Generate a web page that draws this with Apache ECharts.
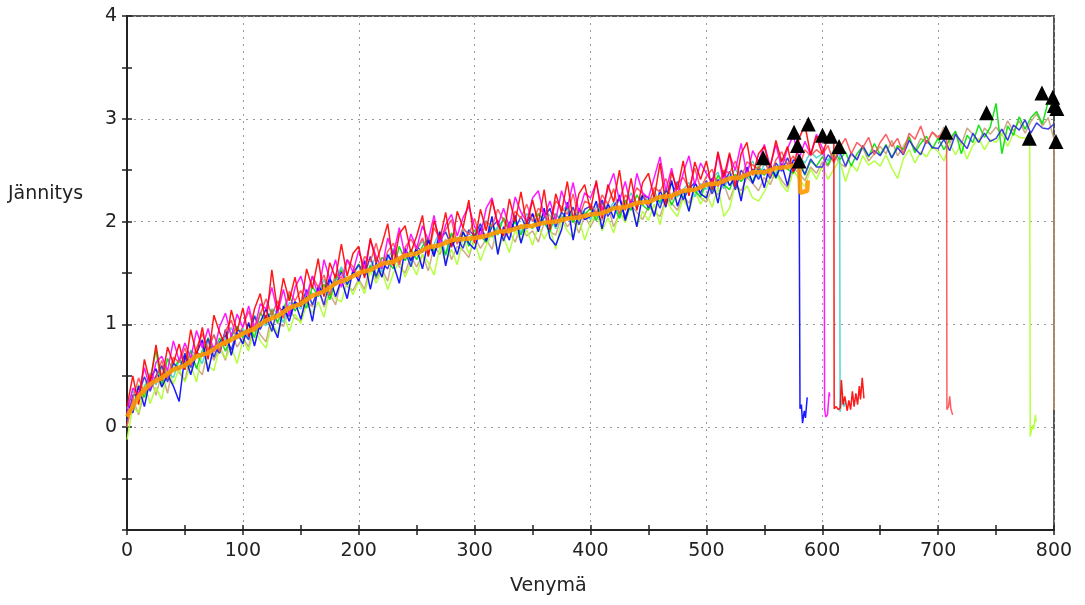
<!DOCTYPE html>
<html>
<head>
<meta charset="utf-8">
<script src="https://cdn.jsdelivr.net/npm/echarts@6/dist/echarts.min.js"></script>
<style>
  html, body { margin: 0; padding: 0; background: #fff; }
  #chart { width: 1085px; height: 605px; }
</style>
</head>
<body>
<div id="chart"></div>
<script>
// sample spacing of the curves (Venymä units)
var xStep = 5;
var xTicks = [0, 100, 200, 300, 400, 500, 600, 700, 800];
var yTicks = [0, 1, 2, 3, 4];

var redA = [
  .20,.50,.22,.66,.43,.80,.45,.78,.62,.81,
  .56,.95,.70,.97,.66,1.09,.92,.79,1.14,.93,
  1.16,.88,1.15,1.30,1.01,1.53,1.13,1.45,1.23,1.46,
  1.17,1.54,1.35,1.64,1.27,1.60,1.45,1.78,1.47,1.69,
  1.76,1.45,1.84,1.60,1.78,1.98,1.57,1.88,1.96,1.70,
  1.86,2.06,1.66,2.01,1.82,2.09,1.75,2.10,1.94,2.21,
  1.79,2.12,1.91,2.21,1.98,1.86,2.22,2.00,2.29,1.96,
  2.21,1.98,2.31,1.92,2.27,2.09,2.39,2.02,2.27,2.36,
  2.11,2.40,2.03,2.36,2.19,2.50,2.11,2.42,2.11,2.38,
  2.47,2.23,2.57,2.16,2.48,2.31,2.59,2.25,2.58,2.41,
  2.59,2.31,2.68,2.43,2.67,2.34,2.66,2.77,2.45,2.66,
  2.73,2.52,2.79,2.58,2.73,2.48,2.81,2.94,2.65,2.83,
  2.66,2.81,2.83
];
var redATail = [[610.3,0.18],[612,0.2],[614,0.17],[615.5,0.19],[616.5,0.46],[618,0.22],[619.5,0.3],[621.5,0.16],[623,0.26],[624.5,0.17],[626,0.35],[627.5,0.2],[629,0.33],[630.5,0.22],[632,0.4],[633,0.27],[634.5,0.48],[636,0.28]];

var redB = [
  .02,.27,.48,.33,.51,.47,.65,.47,.68,.63,
  .77,.60,.77,.91,.75,.90,.73,.94,1.04,.86,
  .98,1.13,.93,1.10,1.25,1.09,1.23,1.06,1.32,1.23,
  1.33,1.21,1.47,1.36,1.48,1.28,1.49,1.45,1.63,1.56,
  1.45,1.66,1.61,1.79,1.56,1.71,1.79,1.58,1.75,1.83,
  1.73,1.84,1.67,1.94,1.83,1.92,2.02,1.78,1.94,1.87,
  2.03,1.83,2.00,1.95,2.12,2.01,1.91,2.10,2.03,2.17,
  2.00,2.13,2.08,1.96,2.20,2.14,2.07,2.27,2.03,2.20,
  2.17,2.08,2.26,2.17,2.32,2.07,2.26,2.20,2.33,2.27,
  2.16,2.33,2.29,2.42,2.21,2.37,2.43,2.32,2.52,2.32,
  2.44,2.51,2.34,2.50,2.47,2.59,2.42,2.58,2.55,2.51,
  2.61,2.44,2.60,2.68,2.55,2.64,2.52,2.70,2.64,2.70,
  2.65,2.74,2.57,2.72,2.81,2.66,2.77,2.72,2.82,2.65,
  2.77,2.85,2.73,2.81,2.66,2.86,2.80,2.93,2.76,2.87,
  2.82,2.87
];
var redBTail = [[707.3,2.85],[707.6,0.17],[709,0.2],[710,0.3],[711,0.18],[712.5,0.12]];

var magenta = [
  .14,.38,.32,.58,.37,.63,.69,.55,.84,.65,
  .82,.67,.94,.77,.96,.73,.98,1.11,.88,1.10,
  .97,1.18,.95,1.20,1.15,1.36,1.11,1.34,1.09,1.36,
  1.47,1.28,1.47,1.28,1.63,1.44,1.63,1.36,1.63,1.51,
  1.72,1.54,1.82,1.66,1.54,1.84,1.68,1.94,1.66,1.88,
  1.74,1.96,1.82,2.06,1.76,1.97,2.07,1.86,2.04,2.15,
  1.95,1.86,2.13,2.23,1.96,2.13,1.94,2.24,2.09,2.00,
  2.23,2.30,2.05,2.20,2.01,2.30,2.13,2.38,2.09,2.28,
  2.23,2.38,2.11,2.32,2.47,2.20,2.39,2.14,2.47,2.28,
  2.23,2.43,2.63,2.30,2.52,2.25,2.47,2.64,2.36,2.57,
  2.47,2.38,2.66,2.37,2.65,2.50,2.76,2.45,2.69,2.58,
  2.75,2.54,2.75,2.52,2.71,2.84,2.61,2.78,2.65,2.85,
  2.72
];
var magentaTail = [[601.7,2.7],[602,0.18],[603,0.1],[604.5,0.12],[606,0.34],[606.5,0.3]];

var cyan = [
  .18,.36,.24,.39,.53,.41,.58,.54,.48,.65,
  .59,.75,.70,.62,.81,.90,.75,.87,.97,.86,
  .96,.87,1.09,1.01,.99,1.15,1.12,1.02,1.21,1.20,
  1.15,1.32,1.30,1.28,1.44,1.28,1.44,1.56,1.42,1.49,
  1.57,1.48,1.55,1.66,1.51,1.64,1.74,1.62,1.72,1.59,
  1.73,1.81,1.69,1.78,1.91,1.67,1.87,1.81,1.92,1.89,
  1.83,1.95,2.01,1.85,1.95,2.02,1.92,2.01,1.89,2.08,
  2.01,1.95,2.09,2.06,1.93,2.10,2.16,2.03,2.12,2.09,
  2.02,2.14,2.21,2.10,2.19,2.05,2.18,2.28,2.13,2.25,
  2.20,2.30,2.17,2.29,2.37,2.24,2.31,2.38,2.24,2.37,
  2.31,2.42,2.48,2.32,2.44,2.51,2.42,2.50,2.59,2.43,
  2.56,2.52,2.45,2.62,2.57,2.51,2.63,2.57,2.68,2.62,
  2.66,2.59,2.70,2.67
];
var cyanTail = [[615.4,0.15],[616.5,0.14],[617.5,0.3],[618.5,0.2],[620,0.24]];

var yellowGreen = [
  -.12,.20,.14,.42,.23,.39,.27,.57,.42,.57,
  .44,.61,.44,.73,.60,.55,.78,.67,.78,.62,
  .85,.74,.97,.84,.77,1.02,.91,1.10,.93,1.10,
  1.01,1.20,1.11,1.22,1.07,1.34,1.25,1.22,1.41,1.29,
  1.42,1.30,1.52,1.40,1.52,1.34,1.50,1.62,1.46,1.60,
  1.48,1.68,1.60,1.48,1.76,1.61,1.73,1.58,1.84,1.69,
  1.81,1.62,1.77,1.89,1.72,1.85,1.70,1.92,1.81,1.92,
  1.77,1.96,1.83,1.94,1.73,2.02,1.91,1.84,2.03,1.82,
  1.99,2.08,1.91,2.04,1.89,2.10,1.99,2.16,1.95,2.10,
  2.01,2.17,1.97,2.22,2.12,2.05,2.23,2.10,2.30,2.17,
  2.27,2.14,2.34,2.05,2.13,2.36,2.26,2.35,2.23,2.20,
  2.29,2.42,2.49,2.36,2.29,2.50,2.41,2.34,2.51,2.41,
  2.54,2.41,2.51,2.60,2.39,2.56,2.49,2.64,2.55,2.59,
  2.54,2.65,2.52,2.42,2.61,2.70,2.57,2.68,2.63,2.73,
  2.68,2.59,2.76,2.65,2.76,2.61,2.74,2.81,2.70,2.80,
  2.77,2.86,2.73,2.86,2.82,2.81
];
var yellowGreenTail = [[779,2.82],[779.5,-0.09],[781.5,0.02],[782.5,-0.02],[784,0.12],[784.5,0.05]];

var tan = [
  .00,.28,.12,.34,.51,.31,.53,.33,.62,.53,
  .46,.69,.58,.51,.76,.65,.78,.65,.92,.78,
  .87,.78,1.01,.90,.83,1.10,1.01,.98,1.15,1.06,
  1.03,1.22,1.17,1.36,1.17,1.30,1.19,1.44,1.37,1.33,
  1.44,1.34,1.58,1.44,1.54,1.42,1.70,1.56,1.50,1.66,
  1.56,1.68,1.52,1.76,1.68,1.83,1.63,1.76,1.72,1.65,
  1.85,1.74,1.83,1.73,1.96,1.83,1.90,1.80,1.97,1.86,
  1.91,1.80,1.99,1.90,1.87,2.06,1.95,2.02,1.89,2.06,
  1.95,2.06,2.01,2.16,1.95,2.08,2.03,2.16,2.09,2.02,
  2.15,2.09,2.05,2.22,2.18,2.11,2.25,2.18,2.32,2.23,
  2.19,2.32,2.26,2.37,2.21,2.36,2.30,2.43,2.37,2.30,
  2.43,2.36,2.49,2.40,2.33,2.52,2.47,2.40,2.53,2.47,
  2.58,2.54,2.65,2.57,2.53,2.65,2.61,2.72,2.59,2.66,
  2.73,2.66,2.79,2.64,2.73,2.83,2.69,2.81,2.76,2.87,
  2.80,2.92,2.76,2.87,2.75,2.91,2.85,2.77,2.91,2.85,
  2.92,2.84,2.98,2.88,2.98,2.86,2.97,3.05,2.93,3.01,
  2.80
];
var tanTail = [[800,0.17]];

var lime = [
  .16,.18,.41,.29,.46,.75,.40,.67,.54,.67,
  .56,.74,.57,.75,.87,.74,.87,.74,.88,.98,
  .87,1.00,.87,1.12,1.01,1.14,1.02,1.15,1.29,1.13,
  1.23,1.16,1.37,1.27,1.39,1.24,1.43,1.53,1.39,1.48,
  1.59,1.47,1.57,1.46,1.65,1.61,1.54,1.76,1.62,1.73,
  1.63,1.76,1.84,1.71,1.80,1.68,1.89,1.79,1.90,1.76,
  1.92,1.86,1.80,1.98,1.87,2.04,1.91,2.00,1.87,2.00,
  1.93,2.08,1.99,1.90,2.08,2.00,2.15,1.99,2.10,2.07,
  2.13,2.01,2.18,2.09,2.15,2.03,2.21,2.11,2.26,2.16,
  2.11,2.24,2.19,2.32,2.16,2.28,2.23,2.35,2.30,2.24,
  2.37,2.30,2.45,2.36,2.31,2.46,2.39,2.46,2.39,2.54,
  2.45,2.53,2.42,2.57,2.51,2.47,2.61,2.45,2.59,2.54,
  2.63,2.55,2.69,2.60,2.68,2.54,2.66,2.73,2.63,2.76,
  2.65,2.75,2.62,2.74,2.70,2.82,2.67,2.76,2.83,2.71,
  2.81,2.70,2.80,2.88,2.66,2.84,2.77,2.94,2.82,2.92,
  3.15,2.66,2.93,2.84,3.02,2.90,3.01,3.07,2.95,3.17,
  3.10
];

var blueA = [
  .24,.14,.40,.20,.47,.57,.39,.51,.40,.25,
  .70,.51,.72,.85,.54,.79,.72,.95,.70,.92,
  .81,1.02,.79,1.02,1.15,1.00,.87,1.18,1.03,1.22,
  1.05,1.28,1.03,1.38,1.29,1.46,1.27,1.44,1.25,1.53,
  1.42,1.62,1.34,1.60,1.46,1.68,1.58,1.40,1.74,1.62,
  1.74,1.54,1.82,1.66,1.90,1.57,1.83,1.68,1.90,1.79,
  1.73,1.94,1.81,2.05,1.68,1.95,1.82,2.06,1.79,2.00,
  2.07,1.90,2.13,1.84,1.77,1.92,2.19,1.82,2.13,2.02,
  2.05,2.20,1.93,2.18,2.03,2.26,2.01,2.20,1.95,2.26,
  2.23,2.05,2.31,2.14,2.40,2.15,2.31,2.10,2.38,2.27,
  2.23,2.42,2.18,2.49,2.35,2.44,2.20,2.53,2.37,2.52,
  2.33,2.56,2.43,2.56,2.35,2.60,2.59
];
var blueATail = [[580.8,0.18],[582,0.22],[583,0.04],[584.5,0.16],[585.5,0.09],[587,0.29]];

var blueB = [
  .06,.31,.32,.49,.35,.50,.60,.44,.63,.56,
  .72,.58,.73,.69,.86,.68,.83,.90,.75,.94,
  .93,.85,1.08,.95,1.09,.93,1.17,1.13,1.08,1.22,
  1.18,1.34,1.19,1.35,1.19,1.43,1.38,1.51,1.39,1.50,
  1.58,1.48,1.66,1.47,1.60,1.54,1.72,1.61,1.71,1.56,
  1.76,1.70,1.83,1.68,1.82,1.90,1.76,1.84,1.74,1.92,
  1.86,1.98,1.82,1.95,2.01,1.81,2.00,1.93,2.05,1.93,
  2.08,1.94,2.04,2.13,1.95,2.09,2.03,2.14,1.97,2.12,
  2.15,2.07,2.21,2.05,2.15,2.23,2.04,2.21,2.16,2.26,
  2.13,2.25,2.13,2.31,2.23,2.39,2.21,2.32,2.38,2.28,
  2.40,2.27,2.41,2.35,2.49,2.31,2.50,2.43,2.51,2.41,
  2.51,2.42,2.57,2.49,2.62,2.49,2.56,2.46,2.61,2.53,
  2.53,2.65,2.59,2.68,2.54,2.67,2.60,2.74,2.64,2.69,
  2.64,2.74,2.62,2.72,2.65,2.79,2.71,2.65,2.79,2.72,
  2.71,2.80,2.69,2.85,2.78,2.71,2.86,2.77,2.86,2.78,
  2.81,2.90,2.79,2.94,2.89,2.99,2.86,2.96,2.91,2.90,
  2.95
];

// average curve, every 10 units
var avgStep = 10;
var average = [
  .10,.30,.42,.48,.56,.60,.69,.72,.80,.85,
  .91,.96,1.04,1.08,1.16,1.20,1.28,1.32,1.40,1.44,
  1.50,1.53,1.59,1.61,1.67,1.69,1.75,1.77,1.82,1.83,
  1.84,1.86,1.90,1.91,1.95,1.96,1.99,2.00,2.03,2.04,
  2.07,2.08,2.13,2.14,2.18,2.19,2.24,2.25,2.30,2.31,
  2.36,2.37,2.42,2.43,2.48,2.48,2.52,2.53,2.56
];
var averageTail = [[581,2.28],[587,2.30],[587.5,2.40]];

// breaking points
var breaks = [
  [549,2.62],[575.7,2.87],[578.6,2.74],[580,2.59],[588,2.95],[600.2,2.84],
  [607.3,2.83],[614.5,2.73],[706.7,2.87],[741.8,3.06],[778.7,2.81],
  [789.6,3.25],[798.9,3.21],[800.3,3.13],[802.5,3.10],[801.7,2.78]
];

function build(vals, step, tail) {
  var pts = vals.map(function (v, i) { return [i * step, v]; });
  return tail ? pts.concat(tail) : pts;
}

function curve(name, color, data, width) {
  return {
    name: name,
    type: 'line',
    data: data,
    showSymbol: false,
    clip: false,
    lineStyle: { color: color, width: width || 1.5, opacity: 0.9 },
    itemStyle: { color: color },
    z: 2
  };
}

var font = 'DejaVu Sans, Verdana, sans-serif';
var tickLine = { color: '#222', width: 1.5 };

var myChart = echarts.init(document.getElementById('chart'));
var option = {
  animation: false,
  grid: {
    left: 127, right: 31, top: 16, bottom: 75,
    show: true, borderColor: '#555', borderWidth: 2
  },
  xAxis: [
    {
      type: 'value', min: 0, max: 800, interval: 100,
      axisLine: { onZero: false, lineStyle: { color: '#222', width: 2 } },
      axisTick: { show: true, length: 5, lineStyle: tickLine },
      minorTick: { show: true, splitNumber: 2, length: 5, lineStyle: tickLine },
      axisLabel: {
        color: '#222', fontSize: 19, fontFamily: font, margin: 12,
        formatter: function (v) { return xTicks.indexOf(v) >= 0 ? String(v) : ''; }
      },
      splitLine: { show: true, lineStyle: { color: '#999', type: [2, 5], width: 1 } }
    },
    {
      type: 'value', min: 0, max: 800, interval: 100, position: 'bottom',
      axisLine: { show: false, onZero: false },
      axisTick: { show: true, inside: true, length: 5, lineStyle: tickLine },
      minorTick: { show: true, splitNumber: 2, length: 5, lineStyle: tickLine },
      axisLabel: { show: false },
      splitLine: { show: false }
    }
  ],
  yAxis: [
    {
      type: 'value', min: -1, max: 4, interval: 1,
      axisLine: { show: true, onZero: false, lineStyle: { color: '#222', width: 2 } },
      axisTick: { show: true, length: 5, lineStyle: tickLine },
      minorTick: { show: true, splitNumber: 2, length: 5, lineStyle: tickLine },
      axisLabel: {
        color: '#222', fontSize: 19, fontFamily: font, margin: 10,
        formatter: function (v) { return yTicks.indexOf(v) >= 0 ? String(v) : ''; }
      },
      splitLine: { show: true, lineStyle: { color: '#999', type: [2, 5], width: 1 } }
    },
    {
      type: 'value', min: -1, max: 4, interval: 1, position: 'left',
      axisLine: { show: false, onZero: false },
      axisTick: { show: true, inside: true, length: 5, lineStyle: tickLine },
      minorTick: { show: true, splitNumber: 2, length: 5, lineStyle: tickLine },
      axisLabel: { show: false },
      splitLine: { show: false }
    }
  ],
  graphic: [
    { type: 'text', left: 8, top: 185, style: { text: 'Jännitys', font: '19px ' + font, fill: '#222' } },
    { type: 'text', left: 510, top: 577, style: { text: 'Venymä', font: '19px ' + font, fill: '#222' } }
  ],
  series: [
    curve('tan', '#c8a07a', build(tan, xStep, tanTail)),
    curve('yellowGreen', '#adff2f', build(yellowGreen, xStep, yellowGreenTail)),
    curve('cyan', '#40d0d0', build(cyan, xStep, cyanTail)),
    curve('lime', '#00e000', build(lime, xStep)),
    curve('blueB', '#2a2ae0', build(blueB, xStep)),
    curve('blueA', '#0000ff', build(blueA, xStep, blueATail)),
    curve('redB', '#ff4d4d', build(redB, xStep, redBTail)),
    curve('magenta', '#ff00ff', build(magenta, xStep, magentaTail)),
    curve('redA', '#ff0000', build(redA, xStep, redATail)),
    curve('average', '#ff9900', build(average, avgStep, averageTail), 4.5),
    {
      name: 'breaks',
      type: 'scatter',
      data: breaks,
      symbol: 'triangle',
      symbolSize: 15,
      clip: false,
      itemStyle: { color: '#000', opacity: 1 },
      z: 5
    }
  ]
};
myChart.setOption(option);
</script>
</body>
</html>
